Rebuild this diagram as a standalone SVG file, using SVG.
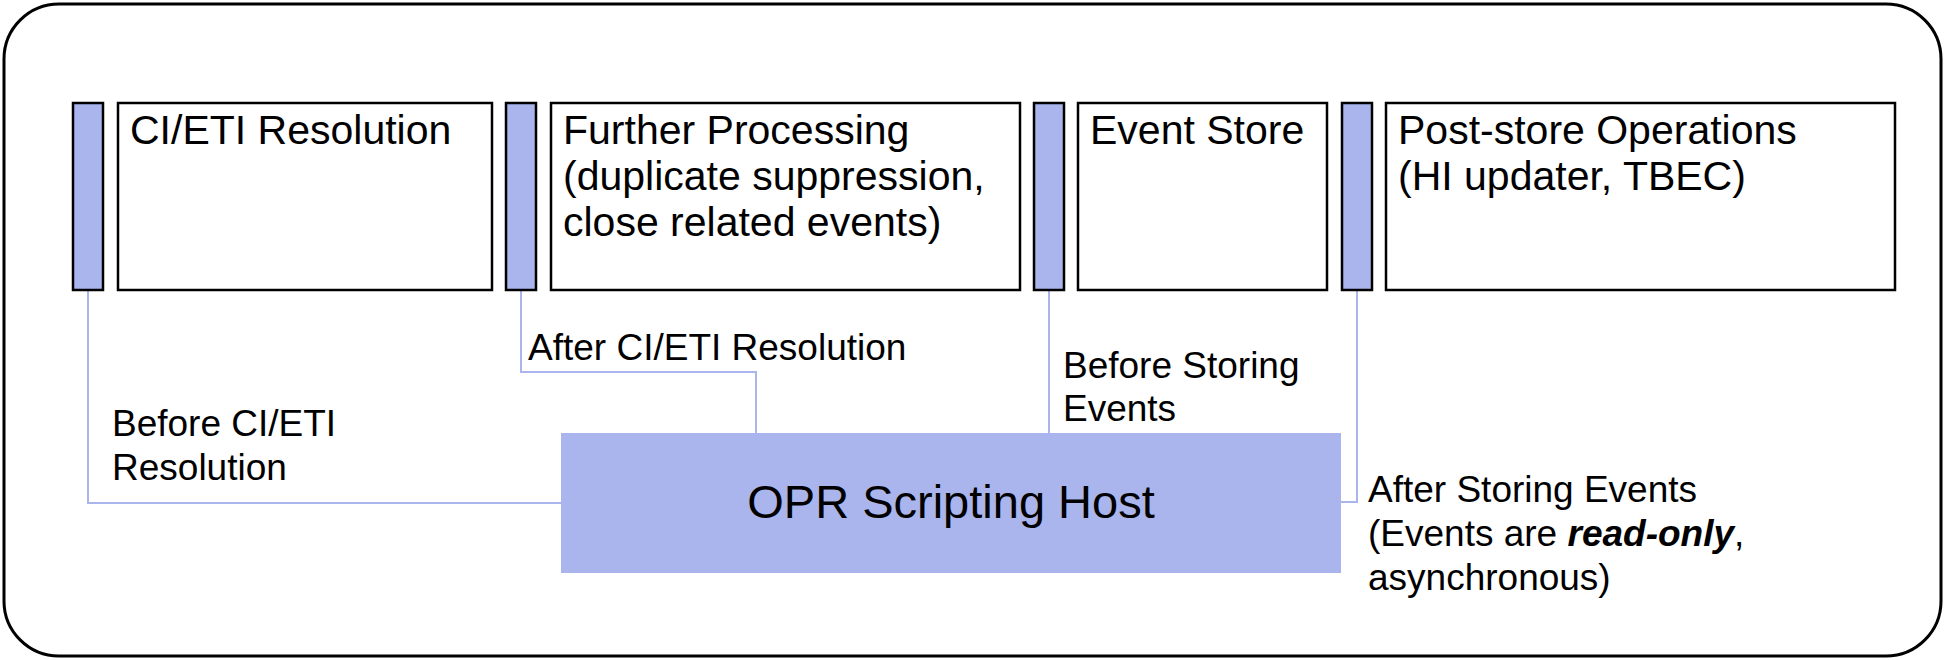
<svg xmlns="http://www.w3.org/2000/svg" width="1945" height="660" viewBox="0 0 1945 660">
<style>
.frame{fill:#fff;stroke:#000;stroke-width:3}
.bar{fill:#a9b5ec;stroke:#000;stroke-width:2.5}
.box{fill:#fff;stroke:#000;stroke-width:2.5}
.host{fill:#a9b5ec}
.conn{fill:none;stroke:#a9b5ec;stroke-width:2}
.t{font-family:"Liberation Sans",Arial,sans-serif;font-size:41px;fill:#000}
.l{font-family:"Liberation Sans",Arial,sans-serif;font-size:37px;fill:#000}
.h{font-family:"Liberation Sans",Arial,sans-serif;font-size:47px;fill:#000}
</style>
<rect class="frame" x="4" y="4" width="1937" height="652" rx="55" ry="55"/>
<g id="connectors">
<path class="conn" d="M88,291 V503 H562"/>
<path class="conn" d="M521,291 V372 H756 V433"/>
<path class="conn" d="M1049,291 V433"/>
<path class="conn" d="M1357,291 V502 H1341"/>
</g>
<g id="bar1"><rect class="bar" x="73" y="103" width="30" height="187"/></g>
<g id="ci-eti-resolution"><rect class="box" x="118" y="103" width="374" height="187"/>
<text class="t" x="130" y="144">CI/ETI Resolution</text></g>
<g id="bar2"><rect class="bar" x="506" y="103" width="30" height="187"/></g>
<g id="further-processing"><rect class="box" x="551" y="103" width="469" height="187"/>
<text class="t" x="563" y="144">Further Processing</text>
<text class="t" x="563" y="190">(duplicate suppression,</text>
<text class="t" x="563" y="236">close related events)</text></g>
<g id="bar3"><rect class="bar" x="1034" y="103" width="30" height="187"/></g>
<g id="event-store"><rect class="box" x="1078" y="103" width="249" height="187"/>
<text class="t" x="1090" y="144">Event Store</text></g>
<g id="bar4"><rect class="bar" x="1342" y="103" width="30" height="187"/></g>
<g id="post-store"><rect class="box" x="1386" y="103" width="509" height="187"/>
<text class="t" x="1398" y="144">Post-store Operations</text>
<text class="t" x="1398" y="190">(HI updater, TBEC)</text></g>
<g id="opr-scripting-host"><rect class="host" x="561" y="433" width="780" height="140"/>
<text class="h" x="951" y="518" text-anchor="middle">OPR Scripting Host</text></g>
<g id="labels">
<text class="l" x="112" y="436">Before CI/ETI</text>
<text class="l" x="112" y="480">Resolution</text>
<text class="l" x="528" y="360">After CI/ETI Resolution</text>
<text class="l" x="1063" y="378">Before Storing</text>
<text class="l" x="1063" y="421">Events</text>
<text class="l" x="1368" y="502">After Storing Events</text>
<text class="l" x="1368" y="546">(Events are <tspan font-weight="bold" font-style="italic">read-only</tspan>,</text>
<text class="l" x="1368" y="590">asynchronous)</text>
</g>
</svg>
